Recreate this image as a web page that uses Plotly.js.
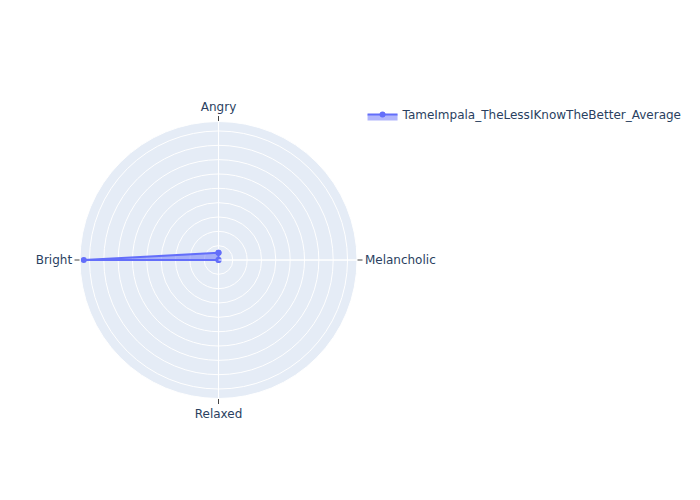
<!DOCTYPE html>
<html>
<head>
<meta charset="utf-8">
<script src="https://cdn.plot.ly/plotly-3.0.1.min.js"></script>
<style>html,body{margin:0;padding:0;}#chart{width:700px;height:500px;}</style>
</head>
<body>
<div id="chart"></div>
<script>
var categories = ["Angry", "Melancholic", "Relaxed", "Bright", "Angry"];
var values = [0.05, 0.0, 0.0, 0.94, 0.05];
var seriesName = "TameImpala_TheLessIKnowTheBetter_Average";

var trace = {
  type: "scatterpolar",
  mode: "lines+markers",
  r: values,
  theta: categories,
  fill: "toself",
  name: seriesName,
  line: { color: "#636efa" },
  marker: { color: "#636efa" }
};

var layout = {
  width: 700,
  height: 500,
  showlegend: true,
  paper_bgcolor: "white",
  font: { family: "DejaVu Sans, Verdana, sans-serif", size: 12, color: "#2a3f5f" },
  polar: {
    bgcolor: "#E5ECF6",
    radialaxis: {
      visible: true,
      showticklabels: false,
      ticks: "",
      angle: 0,
      gridcolor: "white",
      linecolor: "white",
      showline: true
    },
    angularaxis: {
      rotation: 90,
      direction: "clockwise",
      gridcolor: "white",
      linecolor: "white",
      ticks: "outside",
      tickcolor: "#444"
    }
  }
};

Plotly.newPlot("chart", [trace], layout, { displayModeBar: false });
</script>
</body>
</html>
